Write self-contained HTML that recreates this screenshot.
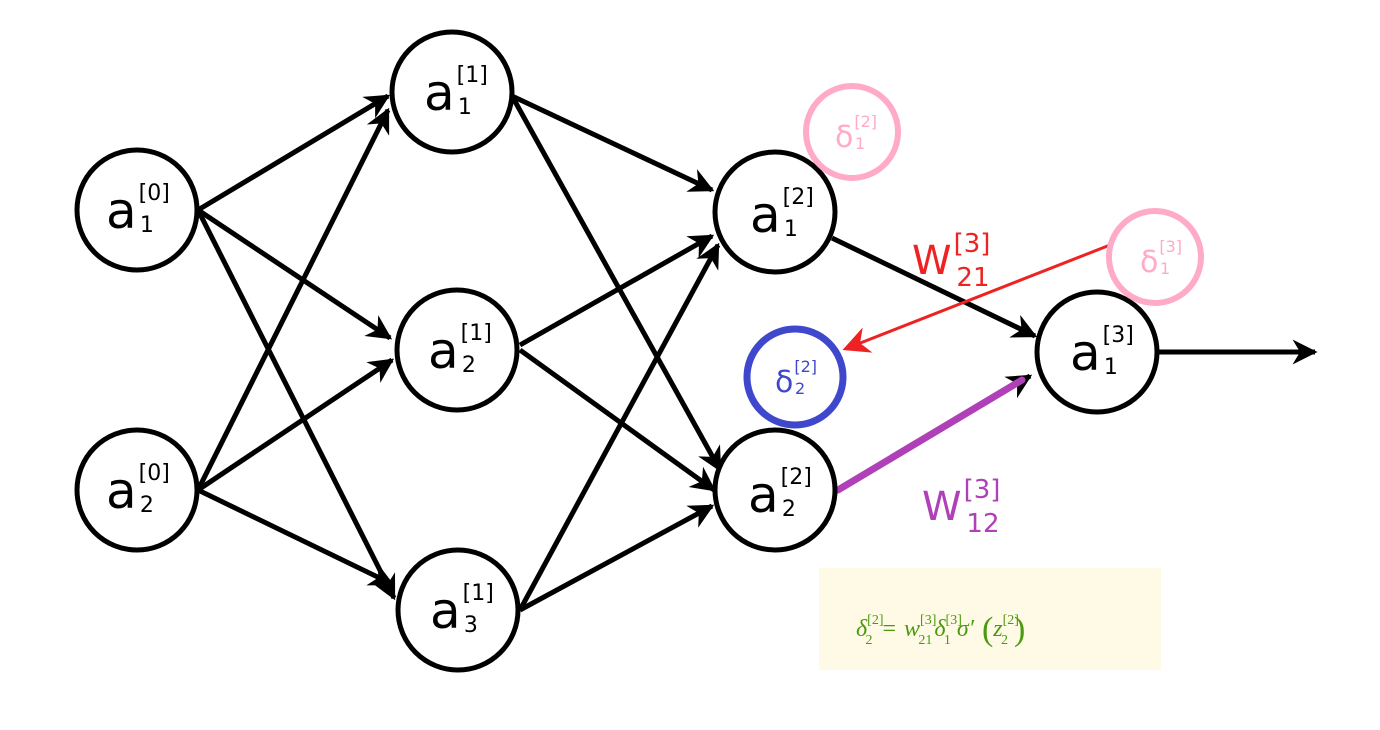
<!DOCTYPE html>
<html><head><style>body{margin:0;background:#fff}svg{display:block}</style></head>
<body>
<svg width="1380" height="730" viewBox="0 0 1380 730" xmlns="http://www.w3.org/2000/svg" font-family="'DejaVu Sans','Liberation Sans',sans-serif">
<defs>
<marker id="ah" viewBox="0 0 10 10" refX="9" refY="5" markerWidth="5" markerHeight="5" orient="auto" markerUnits="strokeWidth"><path d="M0,0 L10,5 L0,10 L3,5 Z" fill="#000"/></marker>
<marker id="ahr" viewBox="0 0 10 10" refX="9" refY="5" markerWidth="9" markerHeight="9" orient="auto" markerUnits="strokeWidth"><path d="M0,0 L10,5 L0,10 L3,5 Z" fill="#ee2222"/></marker>
</defs>
<g stroke="#000" stroke-width="5" fill="none" marker-end="url(#ah)">
<line x1="198" y1="210" x2="388" y2="96"/>
<line x1="198" y1="210" x2="390" y2="338"/>
<line x1="198" y1="210" x2="394" y2="598"/>
<line x1="198" y1="490" x2="388" y2="110"/>
<line x1="198" y1="490" x2="392" y2="360"/>
<line x1="198" y1="490" x2="392" y2="584"/>
<line x1="512" y1="96" x2="712" y2="190"/>
<line x1="512" y1="96" x2="720" y2="470"/>
<line x1="520" y1="345" x2="712" y2="236"/>
<line x1="520" y1="350" x2="714" y2="490"/>
<line x1="520" y1="610" x2="718" y2="245"/>
<line x1="520" y1="610" x2="712" y2="506"/>
<line x1="832" y1="238" x2="1035" y2="336"/>
<line x1="1158" y1="352" x2="1315" y2="352"/>
<line x1="838" y1="490" x2="1030" y2="376"/>
</g>
<line x1="838" y1="490" x2="1022" y2="380" stroke="#b040b8" stroke-width="7" stroke-linecap="round"/>
<line x1="1110" y1="245" x2="845" y2="349" stroke="#ee2222" stroke-width="3" marker-end="url(#ahr)"/>
<g stroke="#000" stroke-width="5" fill="#fff">
<circle cx="137" cy="210" r="60"/>
<circle cx="137" cy="490" r="60"/>
<circle cx="452" cy="92" r="60"/>
<circle cx="457" cy="350" r="60"/>
<circle cx="458" cy="610" r="60"/>
<circle cx="775" cy="212" r="60"/>
<circle cx="775" cy="490" r="60"/>
<circle cx="1097" cy="352" r="60"/>
</g>
<circle cx="852" cy="132" r="46" stroke="#ffaac8" stroke-width="6" fill="#fff"/>
<circle cx="1155" cy="257" r="46" stroke="#ffaac8" stroke-width="6" fill="#fff"/>
<circle cx="795" cy="377" r="48" stroke="#3f48cc" stroke-width="7" fill="#fff"/>
<g fill="#000" font-size="50">
<text x="106" y="228">a<tspan font-size="22" dx="2" dy="-28">[0]</tspan><tspan font-size="22" dx="-30" dy="32">1</tspan></text>
<text x="106" y="508">a<tspan font-size="22" dx="2" dy="-28">[0]</tspan><tspan font-size="22" dx="-30" dy="32">2</tspan></text>
<text x="424" y="110">a<tspan font-size="22" dx="2" dy="-28">[1]</tspan><tspan font-size="22" dx="-30" dy="32">1</tspan></text>
<text x="428" y="368">a<tspan font-size="22" dx="2" dy="-28">[1]</tspan><tspan font-size="22" dx="-30" dy="32">2</tspan></text>
<text x="430" y="628">a<tspan font-size="22" dx="2" dy="-28">[1]</tspan><tspan font-size="22" dx="-30" dy="32">3</tspan></text>
<text x="750" y="232">a<tspan font-size="22" dx="2" dy="-28">[2]</tspan><tspan font-size="22" dx="-30" dy="32">1</tspan></text>
<text x="748" y="512">a<tspan font-size="22" dx="2" dy="-28">[2]</tspan><tspan font-size="22" dx="-30" dy="32">2</tspan></text>
<text x="1070" y="370">a<tspan font-size="22" dx="2" dy="-28">[3]</tspan><tspan font-size="22" dx="-30" dy="32">1</tspan></text>
</g>
<text x="835" y="147" fill="#ffaac8" font-size="30">δ<tspan font-size="16" dx="1" dy="-20">[2]</tspan><tspan font-size="16" dx="-22" dy="22">1</tspan></text>
<text x="1140" y="272" fill="#ffaac8" font-size="30">δ<tspan font-size="16" dx="1" dy="-20">[3]</tspan><tspan font-size="16" dx="-22" dy="22">1</tspan></text>
<text x="775" y="392" fill="#3f48cc" font-size="30">δ<tspan font-size="16" dx="1" dy="-20">[2]</tspan><tspan font-size="16" dx="-22" dy="22">2</tspan></text>
<text x="912" y="274" fill="#ee2222" font-size="40">W<tspan font-size="26" dx="2" dy="-22">[3]</tspan><tspan font-size="26" dx="-34" dy="34">21</tspan></text>
<text x="922" y="520" fill="#b040b8" font-size="40">W<tspan font-size="26" dx="2" dy="-22">[3]</tspan><tspan font-size="26" dx="-34" dy="34">12</tspan></text>
<rect x="819" y="568" width="342" height="102" fill="#fffae6"/>
<text x="856" y="636" fill="#4a9a10" font-family="'Liberation Serif',serif" font-size="24" font-style="italic">δ<tspan font-size="14" font-style="normal" dy="-12">[2]</tspan><tspan font-size="14" font-style="normal" dx="-18" dy="20">2</tspan><tspan font-style="normal" dx="10" dy="-8">=</tspan><tspan dx="8">w</tspan><tspan font-size="14" font-style="normal" dy="-12">[3]</tspan><tspan font-size="14" font-style="normal" dx="-18" dy="20">21</tspan><tspan dx="2" dy="-8">δ</tspan><tspan font-size="14" font-style="normal" dy="-12">[3]</tspan><tspan font-size="14" font-style="normal" dx="-18" dy="20">1</tspan><tspan dx="6" dy="-8">σ′</tspan><tspan font-style="normal" font-size="34" dx="8" dy="4">(</tspan><tspan dy="-4">z</tspan><tspan font-size="14" font-style="normal" dy="-12">[2]</tspan><tspan font-size="14" font-style="normal" dx="-18" dy="20">2</tspan><tspan font-style="normal" font-size="34" dx="6" dy="-4">)</tspan></text>
</svg>
</body></html>
